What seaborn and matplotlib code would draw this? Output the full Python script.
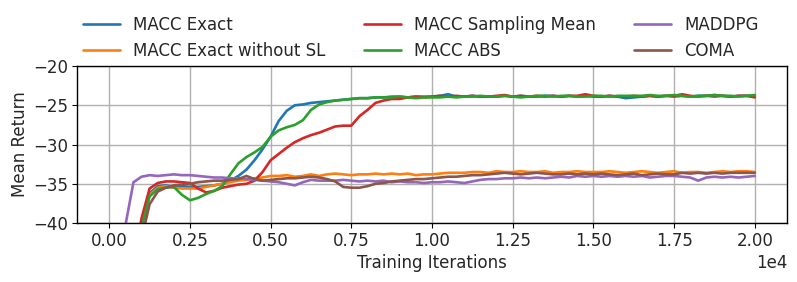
import numpy as np
import pandas as pd
import matplotlib
matplotlib.use("Agg")
import matplotlib.pyplot as plt
import seaborn as sns

# training iterations, one sample every 250 steps
ITERS = list(range(0, 20001, 250))

METHODS = ["MACC Exact", "MACC Exact without SL", "MACC Sampling Mean",
           "MACC ABS", "MADDPG", "COMA"]

macc_exact = [
    -75, -65, -56, -47, -40.4, -36.2, -35.3, -35.2, -35.4, -35.3,
    -35.4, -35.4, -35.3, -35.2, -35.0, -34.6, -34.0, -33.2, -32.0, -30.6,
    -29.0, -27.0, -25.7, -25.0, -24.9, -24.7, -24.6, -24.5, -24.4, -24.3,
    -24.2, -24.1, -24.1, -24.0, -24.0, -23.9, -23.9, -24.0, -23.9, -23.9,
    -23.9, -23.8, -23.6, -23.9, -23.9, -23.8, -23.9, -23.9, -23.9, -23.8,
    -23.9, -23.8, -23.9, -23.9, -23.8, -23.8, -23.9, -23.8, -23.9, -23.8,
    -23.9, -23.9, -23.8, -23.9, -24.1, -24.0, -23.9, -23.8, -23.9, -23.8,
    -23.9, -23.8, -23.9, -23.8, -23.8, -23.9, -23.8, -23.9, -23.8, -23.8,
    -23.8,
]
macc_exact_no_sl = [
    -74, -64, -55, -47, -40.1, -36.4, -35.5, -35.3, -35.5, -35.6,
    -35.6, -35.6, -35.4, -35.2, -35.0, -34.8, -34.6, -34.5, -34.3, -34.2,
    -34.0, -34.0, -33.9, -34.1, -34.0, -33.8, -34.0, -33.8, -33.7, -33.8,
    -33.9, -33.8, -33.8, -33.7, -33.8, -33.7, -33.8, -33.7, -33.9, -33.8,
    -33.8, -33.7, -33.6, -33.6, -33.6, -33.5, -33.5, -33.6, -33.4, -33.5,
    -33.5, -33.4, -33.5, -33.5, -33.4, -33.6, -33.5, -33.5, -33.4, -33.5,
    -33.5, -33.5, -33.4, -33.5, -33.6, -33.5, -33.4, -33.5, -33.6, -33.5,
    -33.4, -33.6, -33.5, -33.5, -33.6, -33.5, -33.4, -33.5, -33.4, -33.4,
    -33.5,
]
macc_sampling_mean = [
    -72, -62, -53, -45, -39.4, -35.6, -34.9, -34.7, -34.7, -34.8,
    -34.9, -35.6, -36.1, -35.9, -35.5, -35.3, -35.1, -35.0, -34.6, -33.5,
    -32.0, -31.2, -30.4, -29.7, -29.2, -28.8, -28.5, -28.1, -27.7, -27.6,
    -27.6, -26.4, -25.6, -24.7, -24.4, -24.2, -24.2, -24.0, -23.9, -24.0,
    -23.9, -23.8, -23.9, -23.8, -23.9, -23.8, -23.9, -23.9, -23.8, -23.7,
    -23.9, -23.8, -23.9, -23.8, -23.9, -23.8, -23.9, -23.8, -23.8, -23.6,
    -23.8, -23.9, -23.8, -23.9, -23.9, -23.8, -23.9, -23.8, -23.9, -23.8,
    -23.8, -23.6, -23.8, -23.9, -23.8, -23.7, -23.8, -23.9, -23.8, -23.8,
    -24.0,
]
macc_abs = [
    -78, -67, -57, -48, -40.6, -36.6, -35.7, -35.5, -35.4, -36.4,
    -37.1, -36.8, -36.3, -35.9, -35.3, -33.8, -32.4, -31.6, -31.0, -30.3,
    -29.0, -28.2, -27.8, -27.5, -26.9, -25.6, -24.9, -24.6, -24.4, -24.3,
    -24.2, -24.1, -24.1, -24.0, -24.0, -24.0, -23.9, -24.0, -24.1, -24.0,
    -24.0, -24.0, -23.9, -24.0, -23.9, -23.9, -23.8, -23.9, -23.9, -23.8,
    -23.9, -24.0, -23.9, -23.8, -23.8, -23.9, -23.8, -23.8, -23.9, -23.9,
    -23.8, -23.8, -23.9, -23.8, -23.8, -23.8, -23.8, -23.7, -23.8, -23.8,
    -23.7, -23.8, -23.9, -23.8, -23.8, -23.7, -23.8, -23.8, -23.9, -23.8,
    -23.7,
]
maddpg = [
    -65, -52, -40.3, -34.8, -34.1, -33.9, -34.0, -33.9, -33.8, -33.9,
    -33.9, -34.0, -34.1, -34.2, -34.2, -34.3, -34.3, -34.4, -34.5, -34.6,
    -34.7, -34.8, -35.0, -35.2, -34.8, -34.5, -34.6, -34.6, -34.6, -34.5,
    -34.6, -34.7, -34.6, -34.7, -34.6, -34.8, -34.7, -34.8, -34.8, -34.9,
    -34.8, -34.8, -34.7, -34.8, -34.9, -34.7, -34.5, -34.4, -34.4, -34.3,
    -34.3, -34.2, -34.3, -34.2, -34.3, -34.2, -34.1, -34.2, -34.0, -34.1,
    -34.0, -34.1, -34.0, -34.1, -34.0, -34.1, -34.0, -34.2, -34.1, -34.0,
    -34.0, -34.1, -34.2, -34.6, -34.2, -34.1, -34.2, -34.1, -34.2, -34.1,
    -34.0,
]
coma = [
    -80, -70, -60, -50, -42.0, -37.6, -36.0, -35.5, -35.2, -35.1,
    -35.0, -34.8, -34.7, -34.6, -34.6, -34.5, -34.4, -34.0, -34.4, -34.6,
    -34.5, -34.4, -34.3, -34.3, -34.2, -34.1, -34.2, -34.4, -34.7, -35.4,
    -35.5, -35.5, -35.3, -35.0, -34.9, -34.7, -34.6, -34.5, -34.4, -34.4,
    -34.3, -34.2, -34.1, -34.1, -34.0, -33.9, -33.9, -33.8, -33.7, -33.6,
    -33.7, -33.8, -33.7, -33.6, -33.7, -33.8, -33.8, -33.7, -33.8, -33.7,
    -33.8, -33.7, -33.8, -33.9, -33.8, -33.7, -33.9, -33.8, -33.7, -33.8,
    -33.8, -33.6, -33.7, -33.6, -33.7, -33.6, -33.7, -33.6, -33.6, -33.6,
    -33.6,
]

SERIES = [macc_exact, macc_exact_no_sl, macc_sampling_mean, macc_abs, maddpg, coma]

# ---- long-form table ----
df = pd.concat([
    pd.DataFrame({"Iteration": ITERS, "Return": vals, "Method": name})
    for name, vals in zip(METHODS, SERIES)
], ignore_index=True)

tab = sns.color_palette("tab10")
palette = dict(zip(METHODS, [tab[0], tab[1], tab[3], tab[2], tab[4], tab[5]]))

sns.set_style("ticks", {"axes.grid": True, "grid.color": "#b0b0b0",
                        "axes.edgecolor": "black"})
plt.rcParams["font.family"] = ["DejaVu Sans"]
plt.rcParams["font.size"] = 12

FS = 12
LW = 1.9

fig = plt.figure(figsize=(7.97, 2.82), dpi=100)
ax = fig.add_axes([0.0966, 0.209, 0.8909, 0.557])

sns.lineplot(data=df, x="Iteration", y="Return", hue="Method",
             hue_order=METHODS, palette=palette, linewidth=LW, ax=ax,
             legend=False)

ax.set_ylim(-40, -20)
ax.set_xlim(-1000, 21000)
ax.set_xticks(np.arange(0, 20001, 2500))
ax.set_yticks([-40, -35, -30, -25, -20])
ax.ticklabel_format(style="sci", axis="x", scilimits=(0, 0))
ax.tick_params(labelsize=FS, length=3.5, width=0.8, color="black", pad=3)
ax.xaxis.get_offset_text().set_fontsize(FS)
ax.grid(True, color="#b0b0b0", linewidth=1.0)
ax.set_xlabel("Training Iterations", fontsize=FS, labelpad=3)
ax.set_ylabel("Mean Return", fontsize=FS, labelpad=3)
for sp in ax.spines.values():
    sp.set_color("black")
    sp.set_linewidth(1.0)

handles = [plt.Line2D([], [], color=palette[m], linewidth=LW) for m in METHODS]
fig.legend(handles, METHODS, ncol=3, frameon=False, fontsize=FS,
           loc="upper left", bbox_to_anchor=(0.096, 0.968), borderaxespad=0,
           handlelength=2.2, handletextpad=0.8, columnspacing=2.3,
           labelspacing=0.5)

fig.savefig("out.png", dpi=100)
